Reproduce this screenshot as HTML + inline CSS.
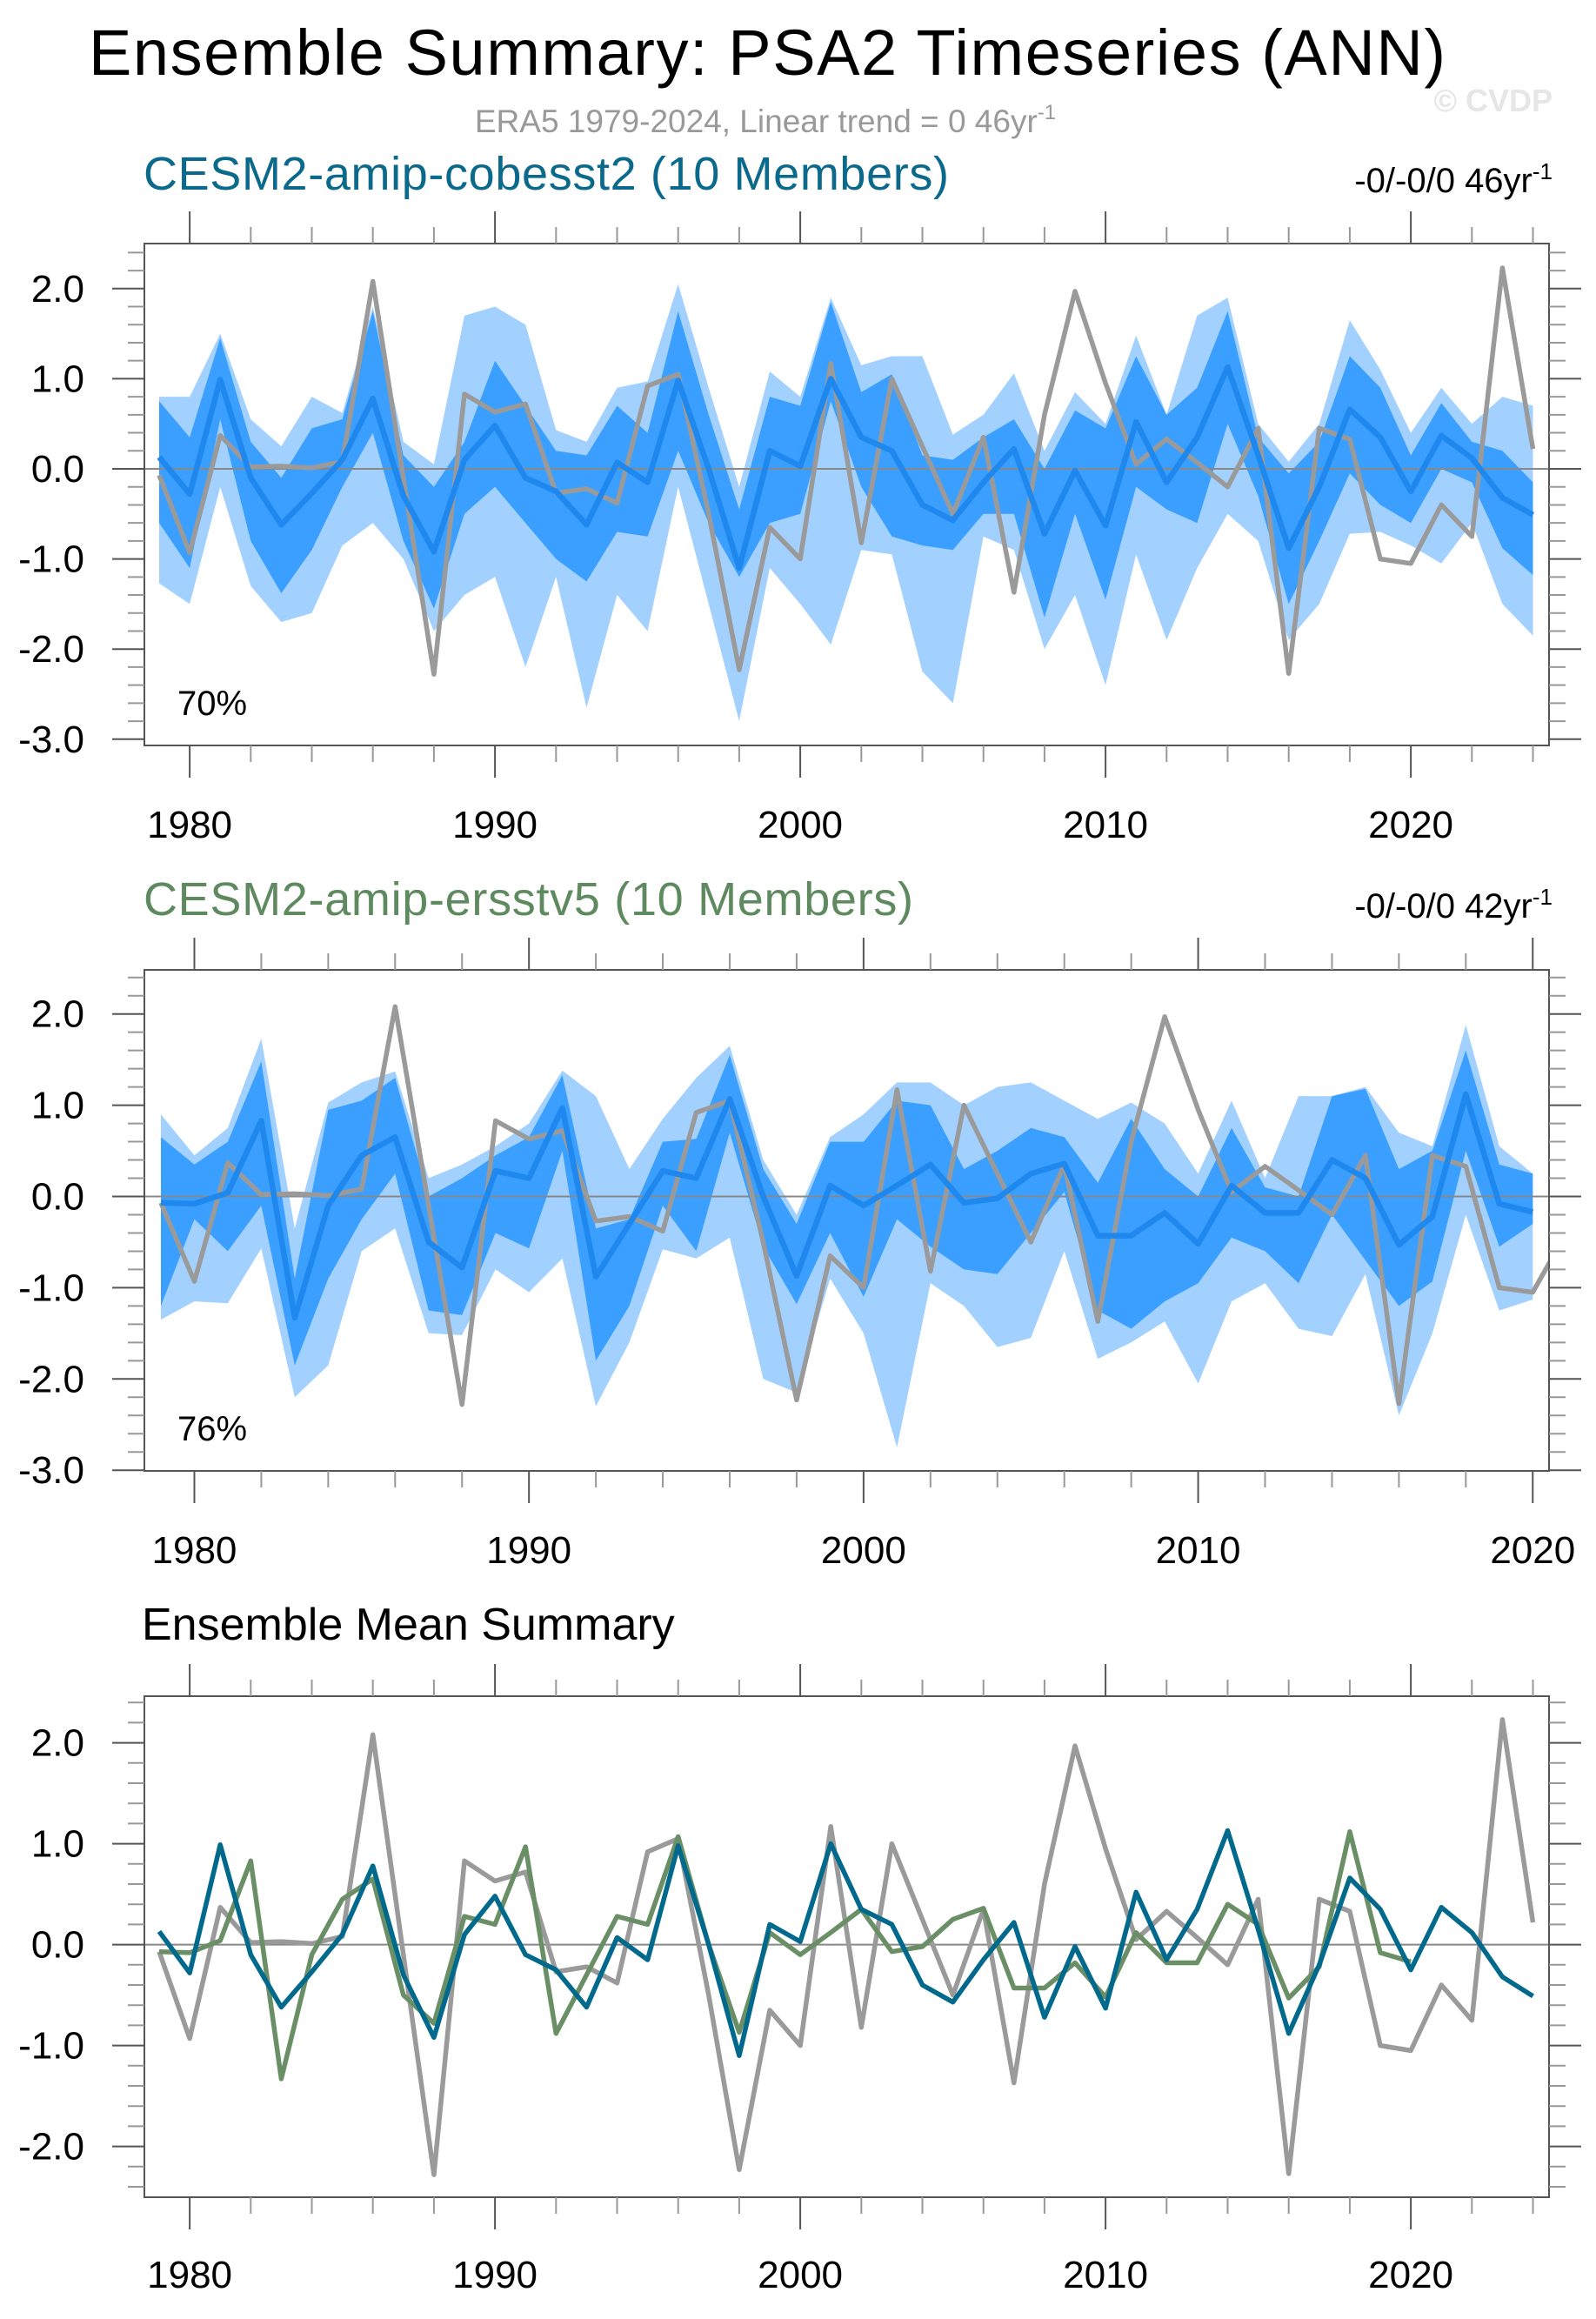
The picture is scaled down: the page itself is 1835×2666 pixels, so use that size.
<!DOCTYPE html>
<html><head><meta charset="utf-8"><style>
html,body{margin:0;padding:0;background:#fff;}
svg{display:block;font-family:"Liberation Sans",sans-serif;}
</style></head><body>
<svg id="chart" width="1835" height="2666" viewBox="0 0 1835 2666" xmlns="http://www.w3.org/2000/svg">
<text x="102" y="86" font-size="74" fill="#000" textLength="1560">Ensemble Summary: PSA2 Timeseries (ANN)</text>
<text x="880" y="152" font-size="37" fill="#999" text-anchor="middle">ERA5 1979-2024, Linear trend = 0 46yr<tspan dy="-15" font-size="24">-1</tspan></text>
<text x="1785" y="128" font-size="36" font-weight="bold" fill="#e6e6e6" text-anchor="end">© CVDP</text>
<text x="165" y="218" font-size="54" fill="#0b6a8c" textLength="926">CESM2-amip-cobesst2 (10 Members)</text>
<text x="1785" y="221" font-size="40" fill="#000" text-anchor="end">-0/-0/0 46yr<tspan dy="-15" font-size="26">-1</tspan></text>
<text x="165" y="1052" font-size="54" fill="#5f8a5f" textLength="885">CESM2-amip-ersstv5 (10 Members)</text>
<text x="1785" y="1055" font-size="40" fill="#000" text-anchor="end">-0/-0/0 42yr<tspan dy="-15" font-size="26">-1</tspan></text>
<text x="163" y="1885" font-size="52" fill="#000">Ensemble Mean Summary</text>
<g id="plots"></g>
</svg>
<script>
const years1 = [1979,1980,1981,1982,1983,1984,1985,1986,1987,1988,1989,1990,1991,1992,1993,1994,1995,1996,1997,1998,1999,2000,2001,2002,2003,2004,2005,2006,2007,2008,2009,2010,2011,2012,2013,2014,2015,2016,2017,2018,2019,2020,2021,2022,2023,2024];
const years2 = [1979,1980,1981,1982,1983,1984,1985,1986,1987,1988,1989,1990,1991,1992,1993,1994,1995,1996,1997,1998,1999,2000,2001,2002,2003,2004,2005,2006,2007,2008,2009,2010,2011,2012,2013,2014,2015,2016,2017,2018,2019,2020];
const obs = [-0.07,-0.93,0.37,0.02,0.03,0.01,0.08,2.08,-0.1,-2.28,0.83,0.63,0.72,-0.27,-0.22,-0.38,0.92,1.05,-0.5,-2.23,-0.65,-1.0,1.17,-0.82,1.0,0.25,-0.5,0.35,-1.37,0.6,1.97,0.95,0.05,0.33,0.07,-0.2,0.45,-2.27,0.45,0.33,-1.0,-1.05,-0.4,-0.75,2.23,0.22];
const mean1 = [0.13,-0.28,0.99,-0.1,-0.62,-0.27,0.1,0.78,-0.3,-0.92,0.1,0.48,-0.1,-0.25,-0.62,0.07,-0.15,0.98,0.0,-1.1,0.2,0.03,1.0,0.35,0.2,-0.4,-0.57,-0.15,0.22,-0.72,-0.02,-0.63,0.52,-0.15,0.35,1.13,0.15,-0.88,-0.2,0.66,0.35,-0.25,0.37,0.12,-0.32,-0.51];
const lightHi1 = [0.8,0.8,1.5,0.55,0.25,0.8,0.62,1.8,0.3,0.05,1.7,1.8,1.6,0.43,0.3,0.9,0.97,2.05,0.9,-0.2,1.08,0.8,1.9,1.15,1.25,1.25,0.38,0.6,1.06,0.2,0.85,0.5,1.48,0.6,1.7,1.9,0.5,0.08,0.5,1.65,1.1,0.4,0.9,0.5,0.8,0.7];
const darkHi1 = [0.75,0.35,1.45,0.3,-0.1,0.45,0.55,1.75,0.15,-0.2,0.3,1.2,0.7,0.2,0.15,0.7,0.4,1.75,0.6,-0.45,0.8,0.7,1.85,0.85,1.05,0.15,0.1,0.35,0.55,0.0,0.65,0.45,1.25,0.6,0.9,1.75,0.35,-0.05,0.3,1.25,0.9,0.15,0.73,0.3,0.2,-0.15];
const darkLo1 = [-0.6,-1.1,0.55,-0.8,-1.38,-0.9,-0.2,0.4,-0.8,-1.55,-0.5,-0.2,-0.6,-1.0,-1.25,-0.7,-0.75,0.2,-0.6,-1.2,-0.6,-0.5,0.75,-0.2,-0.75,-0.85,-0.9,-0.5,-0.5,-1.65,-0.5,-1.45,-0.2,-0.45,-0.6,0.5,-0.3,-1.5,-0.8,-0.05,-0.4,-0.6,0.0,-0.15,-0.88,-1.18];
const lightLo1 = [-1.27,-1.5,-0.2,-1.3,-1.7,-1.6,-0.85,-0.6,-1.0,-1.8,-1.4,-1.2,-2.2,-1.2,-2.65,-1.4,-1.8,-0.2,-1.5,-2.8,-1.1,-1.5,-1.95,-0.9,-0.95,-2.25,-2.6,-0.75,-0.9,-2.0,-1.4,-2.4,-0.95,-1.9,-1.1,-0.5,-0.8,-1.9,-1.5,-0.72,-0.7,-0.85,-1.05,-0.6,-1.5,-1.85];
const mean2 = [-0.07,-0.08,0.04,0.83,-1.33,-0.1,0.45,0.65,-0.5,-0.78,0.28,0.2,0.97,-0.88,-0.3,0.28,0.2,1.07,0.0,-0.87,0.12,-0.1,0.12,0.35,-0.07,-0.02,0.25,0.36,-0.43,-0.43,-0.18,-0.52,0.12,-0.18,-0.18,0.4,0.2,-0.53,-0.22,1.12,-0.08,-0.17];
const lightHi2 = [0.9,0.45,0.75,1.73,-0.35,1.03,1.25,1.37,0.2,0.35,0.55,0.8,1.38,1.1,0.3,0.85,1.3,1.65,0.4,-0.2,0.65,0.9,1.25,1.25,1.0,1.2,1.25,1.05,0.85,1.03,0.8,0.25,1.05,0.2,1.1,1.1,1.2,0.7,0.55,1.88,0.55,0.25];
const darkHi2 = [0.65,0.35,0.6,1.48,-0.9,0.95,1.05,1.3,0.0,0.2,0.45,0.65,1.33,-0.35,-0.25,0.6,0.63,1.55,0.3,-0.3,0.6,0.6,1.05,1.0,0.3,0.5,0.75,0.65,0.15,0.85,0.3,0.0,0.75,0.1,0.0,1.1,1.18,0.3,0.5,1.6,0.35,0.25];
const darkLo2 = [-1.2,-0.25,-0.6,-0.1,-1.85,-0.9,-0.25,0.25,-1.25,-1.3,-0.4,-0.57,0.5,-1.8,-1.2,-0.1,-0.6,0.7,-0.55,-1.18,-0.4,-1.1,-0.25,-0.55,-0.8,-0.85,-0.4,0.05,-1.25,-1.45,-1.15,-0.95,-0.45,-0.6,-0.95,-0.2,-0.7,-1.2,-0.93,0.5,-0.55,-0.3];
const lightLo2 = [-1.35,-1.15,-1.17,-0.57,-2.2,-1.85,-0.6,-0.35,-1.5,-1.52,-0.8,-1.05,-0.68,-2.3,-1.6,-0.58,-0.68,-0.45,-2.0,-2.15,-0.9,-1.5,-2.75,-0.95,-1.2,-1.65,-1.55,-0.6,-1.78,-1.6,-1.37,-2.05,-1.15,-0.95,-1.45,-1.53,-0.85,-2.4,-1.5,-0.2,-1.25,-1.13];
const yTicks12 = [2.0,1.0,0.0,-1.0,-2.0,-3.0];
const yTicks3 = [2.0,1.0,0.0,-1.0,-2.0];
const xTickLabels = [1980,1990,2000,2010,2020];
const pctLabels = ["70%","76%"];

const NS="http://www.w3.org/2000/svg";
const root=document.getElementById('plots');
function mk(tag,attrs,parent){const e=document.createElementNS(NS,tag);for(const k in attrs)e.setAttribute(k,attrs[k]);(parent||root).appendChild(e);return e;}

function panel(cfg){
  const g=mk('g',{});
  
  
  const L=166,R=1781,T=cfg.top,B=cfg.bottom;
  const xs=y=>cfg.x0+(y-cfg.y0)*cfg.xPer;
  const ys=v=>cfg.zero-v*cfg.unit;
  const clipId='clip'+cfg.id;
  const cp=mk('clipPath',{id:clipId},g);mk('rect',{x:L,y:T,width:R-L,height:B-T},cp);
  const pg=mk('g',{'clip-path':'url(#'+clipId+')'},g);
  function band(hi,lo,yrs,color,nm){
    let d='';yrs.forEach((y,i)=>{d+=(i?'L':'M')+xs(y).toFixed(1)+','+ys(hi[i]).toFixed(1);});
    for(let i=yrs.length-1;i>=0;i--)d+='L'+xs(yrs[i]).toFixed(1)+','+ys(lo[i]).toFixed(1);
    const p=mk('path',{d:d+'Z',fill:color},pg);
    
    
  }
  function line(vals,yrs,color,w,nm){
    const pts=yrs.map((y,i)=>xs(y).toFixed(1)+','+ys(vals[i]).toFixed(1)).join(' ');
    const p=mk('polyline',{points:pts,fill:'none',stroke:color,'stroke-width':w,'stroke-linejoin':'round'},pg);
    
    
  }
  if(cfg.bands){
    band(cfg.bands[0],cfg.bands[3],cfg.yrs,'#a3d1ff',cfg.id+'-outer-range-band');
    band(cfg.bands[1],cfg.bands[2],cfg.yrs,'#3a9fff',cfg.id+'-inner-range-band');
  }
  mk('line',{x1:L,x2:R,y1:ys(0),y2:ys(0),stroke:'#888','stroke-width':2},pg);
  cfg.lines.forEach(l=>line(l.v,l.yrs,l.c,l.w,l.n));
  mk('rect',{x:L,y:T,width:R-L,height:B-T,fill:'none',stroke:'#555','stroke-width':2},g);
  for(let v=cfg.yMin;v<=cfg.yMax+1e-6;v+=0.2){
    const major=Math.abs(v-Math.round(v))<1e-6;const len=major?37:19;const yy=ys(v);
    mk('line',{x1:L-len,x2:L,y1:yy,y2:yy,stroke:major?'#555':'#999','stroke-width':2},g);
    mk('line',{x1:R,x2:R+len,y1:yy,y2:yy,stroke:major?'#555':'#999','stroke-width':2},g);
  }
  cfg.yLabels.forEach(v=>{
    const t=mk('text',{x:97,y:ys(v)+15,'font-size':44,'text-anchor':'end',fill:'#000'},g);
    
    
    t.textContent=v.toFixed(1);
  });
  for(let yr=1978;yr<=cfg.yEnd;yr+=2){
    const xx=xs(yr);if(xx<L-1||xx>R+1)continue;const major=yr%10===0;const len=major?37:19;
    mk('line',{x1:xx,x2:xx,y1:T-len,y2:T,stroke:major?'#555':'#999','stroke-width':2},g);
    mk('line',{x1:xx,x2:xx,y1:B,y2:B+len,stroke:major?'#555':'#999','stroke-width':2},g);
  }
  xTickLabels.forEach(yr=>{
    const t=mk('text',{x:xs(yr),y:cfg.xLabelY,'font-size':44,'text-anchor':'middle',fill:'#000'},g);
    
    
    t.textContent=yr;
  });
  if(cfg.pct){
    const t=mk('text',{x:204,y:cfg.pctY,'font-size':40,fill:'#000'},g);
    
    
    t.textContent=cfg.pct;
  }
}

panel({id:'p1',name:'panel-cobesst2',top:280,bottom:857,zero:539,unit:103.6,x0:183,y0:1979,xPer:35.1,yMin:-3.0,yMax:2.4,yLabels:yTicks12,yEnd:2024,xLabelY:963,
  yrs:years1,bands:[lightHi1,darkHi1,darkLo1,lightLo1],pct:pctLabels[0],pctY:822,
  lines:[{v:obs,yrs:years1,c:'#9a9a9a',w:5.5,n:'p1-era5-line'},{v:mean1,yrs:years1,c:'#1e88ee',w:6.5,n:'p1-ensemble-mean-line'}]});
panel({id:'p2',name:'panel-ersstv5',top:1115,bottom:1691,zero:1375.5,unit:104.9,x0:185,y0:1979,xPer:38.47,yMin:-3.0,yMax:2.4,yLabels:yTicks12,yEnd:2022,xLabelY:1797,
  yrs:years2,bands:[lightHi2,darkHi2,darkLo2,lightLo2],pct:pctLabels[1],pctY:1656,
  lines:[{v:obs,yrs:years1,c:'#9a9a9a',w:5.5,n:'p2-era5-line'},{v:mean2,yrs:years2,c:'#1e88ee',w:6.5,n:'p2-ensemble-mean-line'}]});
panel({id:'p3',name:'panel-ensemble-mean-summary',top:1950,bottom:2526,zero:2235.6,unit:116,x0:183,y0:1979,xPer:35.1,yMin:-2.4,yMax:2.4,yLabels:yTicks3,yEnd:2024,xLabelY:2630,
  yrs:years1,bands:null,pct:null,
  lines:[{v:obs,yrs:years1,c:'#9a9a9a',w:5.5,n:'p3-era5-line'},{v:mean2,yrs:years2,c:'#6a8f66',w:5.5,n:'p3-ersstv5-mean-line'},{v:mean1,yrs:years1,c:'#00698c',w:5.5,n:'p3-cobesst2-mean-line'}]});
</script>
</body></html>
